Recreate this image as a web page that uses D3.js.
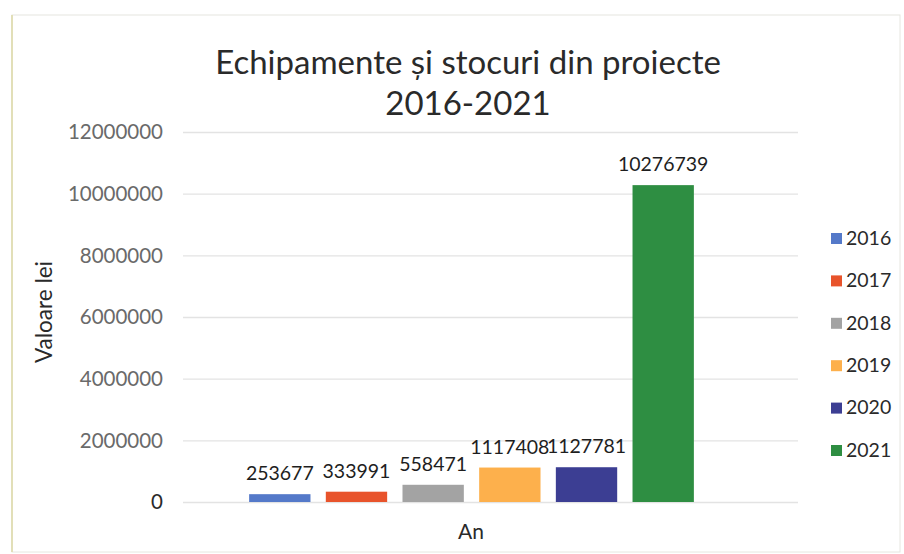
<!DOCTYPE html>
<html>
<head>
<meta charset="utf-8">
<script src="https://cdn.jsdelivr.net/npm/d3@7"></script>
<style>
  body { margin: 0; background: #fff; }
  svg text { font-family: Lato, "Open Sans", sans-serif; }
</style>
</head>
<body>
<div class="graf"></div>
<script>
// date
const ani = ['2016', '2017', '2018', '2019', '2020', '2021'];
const valori = [253677, 333991, 558471, 1117408, 1127781, 10276739];
const culori = ['#5479c9', '#e8532b', '#a3a3a3', '#fdb04c', '#3c3e93', '#2e8e42'];
const yTicks = [0, 2000000, 4000000, 6000000, 8000000, 10000000, 12000000];

main()
function main(){
    const width = 904, height = 554;

    let svg = d3.select('.graf')
        .append('svg')
        .attr('width', width)
        .attr('height', height);

    // fundal + rama
    svg.append('rect')
        .attr('x', 12).attr('y', 15)
        .attr('width', 888).attr('height', 537)
        .attr('fill', '#fff')
        .attr('stroke', '#e6e6e0');
    svg.append('line')
        .attr('x1', 12).attr('x2', 12).attr('y1', 15).attr('y2', 552)
        .attr('stroke', '#e2dfb8').attr('stroke-width', 2);

    const plot = { left: 183, right: 798, top: 132, bottom: 502 };

    let y = d3.scaleLinear()
        .domain([0, 12000000])
        .range([plot.bottom, plot.top]);

    let x = d3.scaleBand()
        .domain(ani)
        .range([243, 700])
        .paddingInner(0.2)
        .paddingOuter(0.08);

    // grid
    svg.append('g')
        .attr('transform', `translate(${plot.left},0)`)
        .call(d3.axisLeft(y).tickValues(yTicks).tickSize(-(plot.right - plot.left)).tickFormat(''))
        .call(g => g.select('.domain').remove())
        .call(g => g.selectAll('line').attr('stroke', '#e3e3e3').attr('stroke-width', 1.3));

    // etichete axa Y
    svg.append('g')
        .selectAll('text')
        .data(yTicks)
        .join('text')
        .attr('x', 163)
        .attr('y', d => y(d))
        .attr('dy', '0.35em')
        .attr('text-anchor', 'end')
        .attr('font-size', 20.5)
        .attr('fill', d => d === 0 ? '#2a2a2a' : '#6a6a6a')
        .text(d => d);

    // bare
    svg.append('g')
        .selectAll('rect')
        .data(valori)
        .join('rect')
        .attr('x', (d, i) => x(ani[i]))
        .attr('width', x.bandwidth())
        .attr('y', d => y(d))
        .attr('height', d => plot.bottom - y(d))
        .attr('fill', (d, i) => culori[i]);

    // valori pe bare
    svg.append('g')
        .selectAll('text')
        .data(valori)
        .join('text')
        .attr('x', (d, i) => x(ani[i]) + x.bandwidth() / 2)
        .attr('y', d => y(d) - 14)
        .attr('text-anchor', 'middle')
        .attr('font-size', 19.5)
        .attr('fill', '#1e1e1e')
        .text(d => d);

    // titlu
    svg.append('text')
        .attr('x', 468).attr('y', 74)
        .attr('text-anchor', 'middle')
        .attr('font-size', 33)
        .attr('fill', '#2a2a2a')
        .text('Echipamente și stocuri din proiecte');
    svg.append('text')
        .attr('x', 468).attr('y', 115)
        .attr('text-anchor', 'middle')
        .attr('font-size', 33)
        .attr('fill', '#2a2a2a')
        .text('2016-2021');

    // titluri axe
    svg.append('text')
        .attr('transform', 'translate(52,312) rotate(-90)')
        .attr('text-anchor', 'middle')
        .attr('font-size', 22.5)
        .attr('fill', '#2a2a2a')
        .text('Valoare lei');
    svg.append('text')
        .attr('x', 471).attr('y', 539)
        .attr('text-anchor', 'middle')
        .attr('font-size', 21)
        .attr('fill', '#2a2a2a')
        .text('An');

    // legenda
    let leg = svg.append('g')
        .selectAll('g')
        .data(ani)
        .join('g')
        .attr('transform', (d, i) => `translate(831,${238 + i * 42.4})`);
    leg.append('rect')
        .attr('x', 0).attr('y', -5)
        .attr('width', 11).attr('height', 11)
        .attr('fill', (d, i) => culori[i]);
    leg.append('text')
        .attr('x', 15)
        .attr('dy', '0.35em')
        .attr('font-size', 19.5)
        .attr('fill', '#2a2a2a')
        .text(d => d);
}
</script>
</body>
</html>
